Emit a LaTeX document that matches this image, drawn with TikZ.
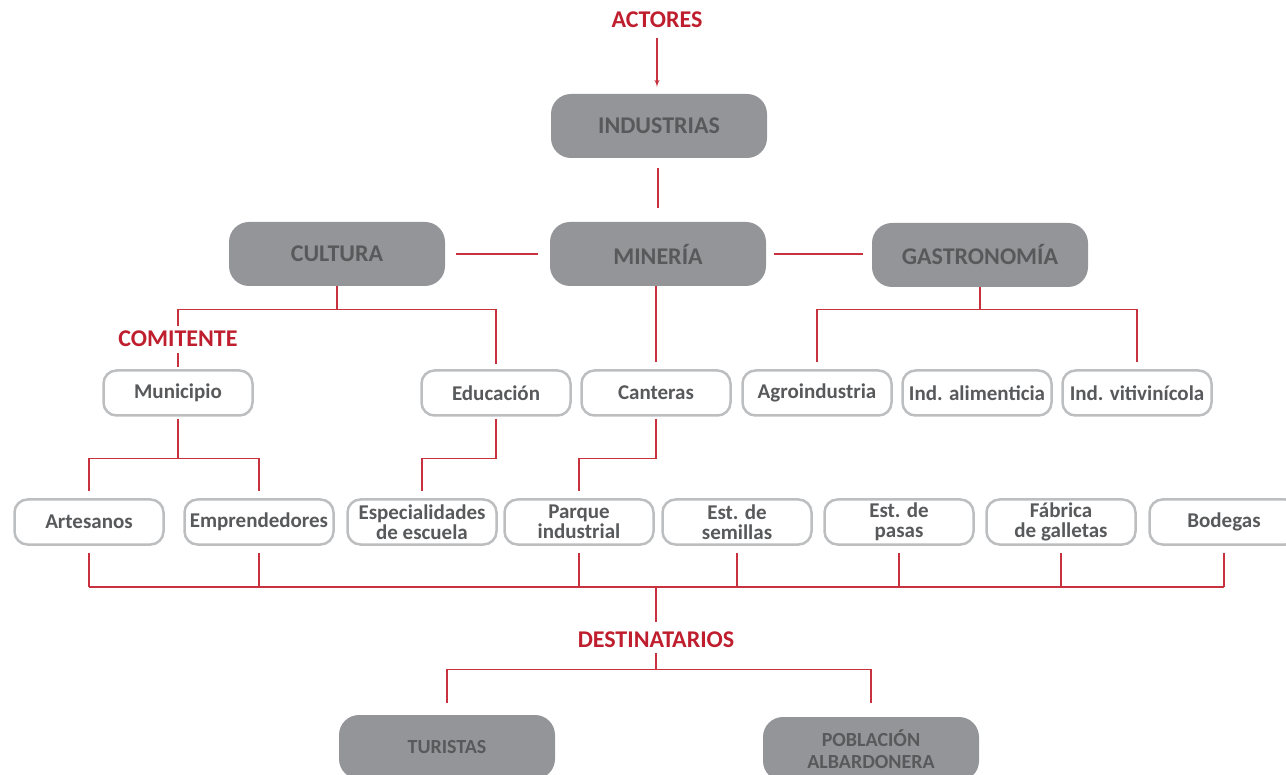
\documentclass[tikz,border=0pt]{standalone}
\usepackage{fontspec}
\setmainfont{Carlito}
\usepackage{tikz}
\usetikzlibrary{arrows}
\usetikzlibrary{positioning}
\definecolor{rojo}{HTML}{BE1E2D}
\definecolor{rojolinea}{HTML}{C8323F}
\definecolor{grisfondo}{HTML}{939598}
\definecolor{gristexto}{HTML}{58595B}
\definecolor{grisborde}{HTML}{BCBEC0}
\tikzstyle{grupo} = [rectangle, rounded corners=20pt, minimum width=216pt, minimum height=64pt, inner sep=0pt, fill=grisfondo, text=gristexto, align=center, font=\bfseries\fontsize{24}{26}\selectfont]
\tikzstyle{destino} = [grupo, font=\bfseries\fontsize{20}{22}\selectfont]
\tikzstyle{actor} = [rectangle, rounded corners=13pt, minimum width=149pt, minimum height=45pt, inner sep=0pt, draw=grisborde, line width=2.5pt, fill=white, text=gristexto, align=center, font=\bfseries\fontsize{21}{20}\selectfont]
\tikzstyle{titulo} = [text=rojo, font=\bfseries\fontsize{24}{26}\selectfont]
\tikzstyle{link} = [draw=rojolinea, line width=1.3pt]

\begin{document}
\begin{tikzpicture}[x=1pt, y=-1pt, >=latex']

  \useasboundingbox (0,0) rectangle (1286,775);

  % niveles superiores
  \node[titulo] (actores) at (657,20) {ACTORES};
  \node[grupo] (industrias) at (659,126) {INDUSTRIAS};
  \node[grupo] (cultura) at (337,254) {CULTURA};
  \node[grupo] (mineria) at (658,254) {MINERÍA};
  \node[grupo] (gastro) at (980,255) {GASTRONOMÍA};
  \node[titulo] (comitente) at (178,339) {COMITENTE};

  % primera fila
  \node[actor] (municipio) at (178,393) {Municipio};
  \node[actor] (educacion) at (496,393) {Educación};
  \node[actor] (canteras) at (656,393) {Canteras};
  \node[actor] (agro) at (817,393) {Agroindustria};
  \node[actor] (alimenticia) at (977,393) {Ind. alimenticia};
  \node[actor] (vitivinicola) at (1137,393) {Ind. vitivinícola};

  % segunda fila
  \node[actor] (artesanos) at (89,522) {Artesanos};
  \node[actor] (emprendedores) at (259,522) {Emprendedores};
  \node[actor] (especialidades) at (422,522) {Especialidades\\de escuela};
  \node[actor] (parque) at (579,522) {Parque\\industrial};
  \node[actor] (semillas) at (737,522) {Est. de\\semillas};
  \node[actor] (pasas) at (899,522) {Est. de\\pasas};
  \node[actor] (galletas) at (1061,522) {Fábrica\\de galletas};
  \node[actor] (bodegas) at (1224,522) {Bodegas};

  % destinatarios
  \node[titulo] (destinatarios) at (656,640) {DESTINATARIOS};
  \node[destino] (turistas) at (447,747) {TURISTAS};
  \node[destino] (poblacion) at (871,749) {POBLACIÓN\\ALBARDONERA};

  % conexiones
  \draw[link,->] ([yshift=-7pt]actores.south) -- ([yshift=7pt]actores.south |- industrias.north);
  \draw[link] ([yshift=-10pt]mineria.north |- industrias.south) -- ([yshift=14pt]mineria.north);
  \draw[link] ([xshift=11pt]cultura.east) -- ([xshift=-12pt]mineria.west);
  \draw[link] ([xshift=8pt]mineria.east) -- ([xshift=-9pt]gastro.west |- mineria.east);

  \draw[link] (cultura.south) -- ++(0,23) coordinate (cj);
  \draw[link] ([yshift=2pt]comitente.north) |- (cj) -| ([yshift=5pt]educacion.north);
  \draw[link] ([yshift=-3pt]comitente.south) -- ([yshift=2pt]municipio.north);
  \draw[link] (canteras.north |- mineria.south) -- ([yshift=7pt]canteras.north);
  \draw[link] (gastro.south) -- ++(0,22) coordinate (gj);
  \draw[link] ([yshift=7pt]agro.north) |- (gj) -| ([yshift=7pt]vitivinicola.north);

  \draw[link] ([yshift=-2pt]municipio.south) -- ++(0,40) coordinate (mj);
  \draw[link] ([yshift=7pt]artesanos.north) |- (mj) -| ([yshift=7pt]emprendedores.north);
  \draw[link] ([yshift=-2pt]educacion.south) -- ++(0,40) -| ([yshift=7pt]especialidades.north);
  \draw[link] ([yshift=-2pt]canteras.south) -- ++(0,40) -| ([yshift=7pt]parque.north);

  \coordinate (bus) at (656,587);
  \foreach \n in {artesanos, emprendedores, parque, semillas, pasas, galletas, bodegas}
    \draw[link] ([yshift=-7pt]\n.south) -- (\n.south |- bus);
  \draw[link] (artesanos.south |- bus) -- (bodegas.south |- bus);
  \draw[link] (bus) -- ([yshift=7pt]destinatarios.north);

  \draw[link] ([yshift=-2pt]destinatarios.south) -- ++(0,16) coordinate (dj);
  \draw[link] ([yshift=12pt]turistas.north) |- (dj) -| ([yshift=14pt]poblacion.north);

\end{tikzpicture}
\end{document}
